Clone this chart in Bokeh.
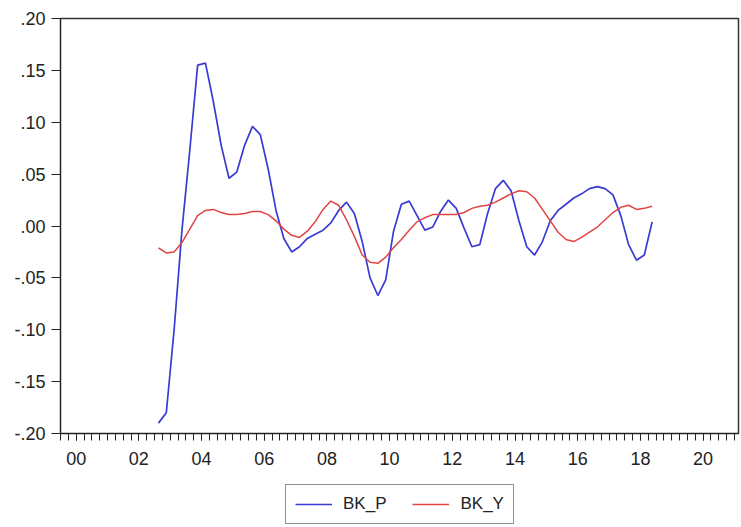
from bokeh.plotting import figure
from bokeh.layouts import column
from bokeh.models import (Range1d, FixedTicker, CustomJSTickFormatter, Legend,
                          LegendItem, ColumnDataSource)
from bokeh.embed import file_html
from bokeh.resources import INLINE

# ---- data (quarterly, 2003Q1 .. 2018Q4) ----
start_year = 2003
n_quarters = 64
periods = [start_year + i // 4 + (i % 4) / 4 + 0.125 for i in range(n_quarters)]

bk_p = [-0.190, -0.180, -0.100, -0.004, 0.073, 0.155, 0.157, 0.120,
        0.078, 0.046, 0.052, 0.078, 0.096, 0.088, 0.055, 0.015,
        -0.012, -0.025, -0.020, -0.012, -0.008, -0.004, 0.003, 0.015,
        0.023, 0.012, -0.015, -0.050, -0.067, -0.052, -0.005, 0.021,
        0.024, 0.010, -0.004, -0.001, 0.014, 0.025, 0.017, -0.002,
        -0.020, -0.018, 0.012, 0.036, 0.044, 0.034, 0.005, -0.020,
        -0.028, -0.015, 0.005, 0.015, 0.021, 0.027, 0.031, 0.036,
        0.038, 0.036, 0.030, 0.010, -0.018, -0.033, -0.028, 0.004]

bk_y = [-0.021, -0.026, -0.025, -0.016, -0.003, 0.010, 0.015, 0.016,
        0.013, 0.011, 0.011, 0.012, 0.014, 0.014, 0.011, 0.005,
        -0.003, -0.009, -0.011, -0.005, 0.004, 0.016, 0.024, 0.020,
        0.006, -0.010, -0.028, -0.035, -0.036, -0.030, -0.021, -0.013,
        -0.004, 0.004, 0.008, 0.011, 0.011, 0.011, 0.011, 0.013,
        0.017, 0.019, 0.020, 0.023, 0.027, 0.031, 0.034, 0.033,
        0.027, 0.016, 0.005, -0.006, -0.013, -0.015, -0.011, -0.006,
        -0.001, 0.006, 0.013, 0.018, 0.020, 0.016, 0.017, 0.019]

series_names = ["BK_P", "BK_Y"]
series_colors = ["#3a3ad4", "#e04444"]

y_ticks = [-0.20, -0.15, -0.10, -0.05, 0.00, 0.05, 0.10, 0.15, 0.20]
x_label_years = [2000, 2002, 2004, 2006, 2008, 2010, 2012, 2014, 2016, 2018, 2020]
x_min, x_max = 2000.0, 2021.63

FONT = "Liberation Sans"
TXT = "#222222"

src = ColumnDataSource(dict(t=periods, bk_p=bk_p, bk_y=bk_y))

p = figure(width=740, height=475, output_backend="svg", toolbar_location=None,
           x_range=Range1d(x_min, x_max), y_range=Range1d(-0.2, 0.2),
           min_border_left=60, min_border_top=18, min_border_right=2,
           min_border_bottom=42)
p.background_fill_color = "white"
p.border_fill_color = "white"
p.outline_line_color = "#333333"
p.outline_line_width = 1.5
p.xgrid.visible = False
p.ygrid.visible = False

p.line("t", "bk_p", source=src, line_color=series_colors[0], line_width=1.7)
p.line("t", "bk_y", source=src, line_color=series_colors[1], line_width=1.5)

# y axis
ya = p.yaxis[0]
ya.ticker = FixedTicker(ticks=y_ticks, minor_ticks=[])
ya.formatter = CustomJSTickFormatter(code="""
    var s = tick.toFixed(2);
    if (s === '-0.00') s = '0.00';
    return s.replace('0.', '.');
""")
ya.major_tick_out = 9
ya.major_tick_in = 0
ya.major_label_standoff = 6
ya.axis_line_color = TXT
ya.major_tick_line_color = TXT
ya.major_label_text_font = FONT
ya.major_label_text_font_size = "18px"
ya.major_label_text_color = TXT

# x axis
quarter_ticks = [x_min + k / 4 for k in range(int((x_max - x_min) * 4) + 1)]
xa = p.xaxis[0]
xa.ticker = FixedTicker(ticks=[y + 0.5 for y in x_label_years], minor_ticks=quarter_ticks)
xa.formatter = CustomJSTickFormatter(code="""
    var y = Math.floor(tick) % 100;
    return (y < 10 ? '0' : '') + y;
""")
xa.major_tick_out = 7
xa.major_tick_in = 0
xa.minor_tick_out = 7
xa.minor_tick_in = 0
xa.major_label_standoff = 11
xa.axis_line_color = TXT
xa.major_tick_line_color = TXT
xa.minor_tick_line_color = TXT
xa.major_label_text_font = FONT
xa.major_label_text_font_size = "18px"
xa.major_label_text_color = TXT

# legend strip below the chart
lg = figure(width=740, height=50, output_backend="svg", toolbar_location=None,
            x_range=Range1d(0, 1), y_range=Range1d(0, 1),
            x_axis_location=None, y_axis_location=None,
            min_border_left=0, min_border_right=0, min_border_top=0,
            min_border_bottom=0)
lg.outline_line_color = None
lg.xgrid.visible = False
lg.ygrid.visible = False
lg.border_fill_color = "white"
lg.background_fill_color = "white"
# off-screen stand-ins that only supply the legend swatches
dummies = [lg.line(x=[-10, -9], y=[-10, -10], line_color=c, line_width=1.7)
           for c in series_colors]

legend = Legend(items=[LegendItem(label=n, renderers=[r]) for n, r in zip(series_names, dummies)],
                orientation="horizontal", location=(225, 1))
legend.border_line_color = TXT
legend.border_line_width = 1.5
legend.label_text_font = FONT
legend.label_text_font_size = "17px"
legend.label_text_color = TXT
legend.glyph_width = 37
legend.label_standoff = 11
legend.spacing = 26
legend.padding = 9
legend.margin = 0
legend.background_fill_alpha = 1
lg.add_layout(legend, "center")

layout = column(p, lg, spacing=0)
open("out.html", "w").write(file_html(layout, INLINE))
